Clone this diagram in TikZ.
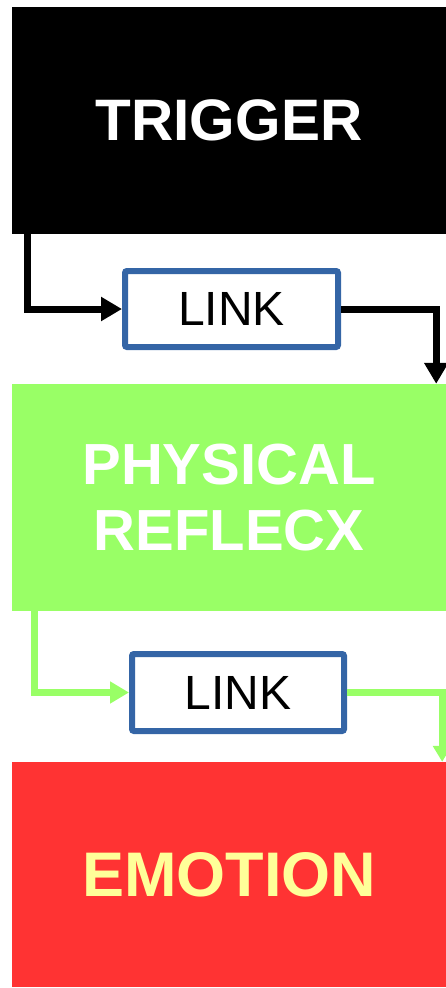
\documentclass[tikz,border=0pt]{standalone}
\usepackage{fontspec}
\setmainfont{Liberation Sans}
\usetikzlibrary{arrows.meta}
\definecolor{reflexgreen}{HTML}{99FF66}
\definecolor{emotionred}{HTML}{FF3333}
\definecolor{emotionyellow}{HTML}{FFFF99}
\definecolor{linkblue}{HTML}{3465A6}
\tikzset{
  stage/.style={inner sep=0pt, minimum width=434pt, align=center, font=\bfseries},
  linkbox/.style={draw=linkblue, line width=6pt, fill=white, rounded corners=2pt,
    inner sep=0pt, font=\fontsize{48}{56}\selectfont},
  flow/.style={line width=7pt, miter limit=10},
}
\begin{document}
\begin{tikzpicture}[x=1pt, y=-1pt]
\useasboundingbox (0,0) rectangle (446,988);

\node[stage, fill=black, text=white, minimum height=227pt,
      font=\bfseries\fontsize{58.5}{72}\selectfont] (trigger) at (229,120) {TRIGGER};
\node[stage, fill=reflexgreen, text=white, minimum height=227pt,
      font=\bfseries\fontsize{58}{66}\selectfont] (reflex) at (229,497.5) {PHYSICAL\\REFLECX};
\node[stage, fill=emotionred, text=emotionyellow, minimum height=225pt,
      font=\bfseries\fontsize{63}{72}\selectfont] (emotion) at (229,874.5) {EMOTION};

\node[linkbox, minimum width=213pt, minimum height=76pt] (link1) at (231.5,309) {LINK};
\node[linkbox, minimum width=212pt, minimum height=77pt] (link2) at (238,692.5) {LINK};

\draw[flow, -{Triangle[length=21pt,width=23pt]}]
  ([xshift=16pt]trigger.south west) |- (link1.west);
\draw[flow, -{Triangle[length=21pt,width=23pt]}]
  (link1.east) -| ([xshift=-10pt]reflex.north east);

\draw[flow, reflexgreen, -{Triangle[length=19pt,width=21pt]}]
  ([xshift=22.5pt]reflex.south west) |- (link2.west);
\draw[flow, reflexgreen, -{Triangle[length=16pt,width=18pt]}]
  (link2.east) -| ([xshift=-4pt]emotion.north east);
\end{tikzpicture}
\end{document}
